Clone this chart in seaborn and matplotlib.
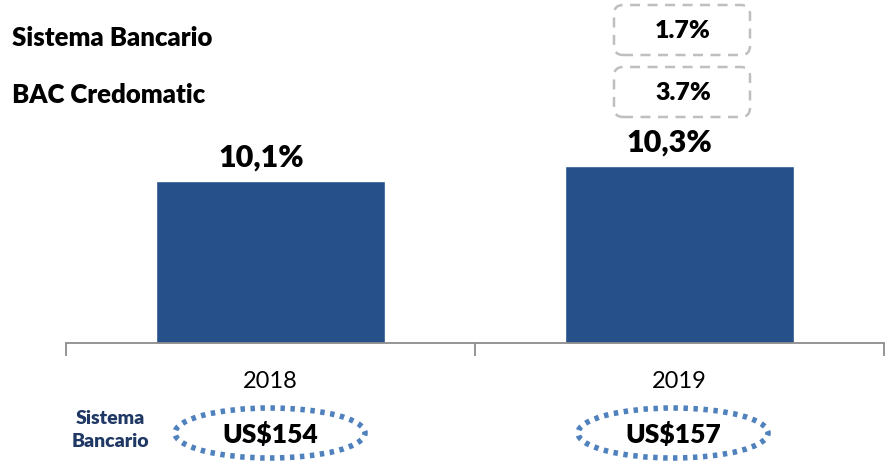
import numpy as np
import pandas as pd
import matplotlib
matplotlib.use("Agg")
import matplotlib.pyplot as plt
import seaborn as sns
from matplotlib.patches import Ellipse, FancyBboxPatch
from matplotlib.transforms import IdentityTransform

# data
years = ["2018", "2019"]
share = [10.1, 10.3]
sistema_growth = "1.7%"
bac_growth = "3.7%"
sistema_totals = ["US$154", "US$157"]

bar_color = "#26508A"
navy = "#1F3864"
dot_blue = "#4F81BD"
BOLD = "heavy"

sns.set_theme(style="white")
plt.rcParams["font.family"] = ["Lato", "DejaVu Sans"]

fig = plt.figure(figsize=(8.85, 4.62), dpi=100)
W, H = 885, 462
# axes placed in pixel terms of the reference
ax = fig.add_axes([66 / W, (H - 343) / H, (884 - 66) / W, 343 / H])

df = pd.DataFrame({"year": years, "share": share})
sns.barplot(data=df, x="year", y="share", color=bar_color, width=0.56,
            saturation=1, ax=ax)

ax.set_ylim(7.94, 7.94 + 343 / 75)
ax.set_xlim(-0.5, 1.5)
ax.set_xlabel("")
ax.set_ylabel("")
ax.set_yticks([])
for s in ["top", "left", "right"]:
    ax.spines[s].set_visible(False)
ax.spines["bottom"].set_color("#8c8c8c")
ax.spines["bottom"].set_linewidth(1.3)

# category separator ticks
ax.set_xticks([-0.5, 0.5, 1.5], minor=True)
ax.tick_params(axis="x", which="minor", length=9, width=1.3, color="#8c8c8c",
               direction="out", bottom=True)
ax.tick_params(axis="x", which="major", length=0, pad=20, labelsize=17,
               labelcolor="black")

# value labels, sitting a little left of bar centre as in the original
for bar, v in zip(ax.patches, share):
    lbl = f"{v:.1f}".replace(".", ",") + "%"
    ax.annotate(lbl, (bar.get_x() + bar.get_width() / 2, bar.get_height()),
                xytext=(-7, 7), textcoords="offset points", ha="center",
                va="bottom", fontsize=22, fontweight=BOLD, color="black")

# left header labels
fig.text(12 / W, 1 - 38 / H, "Sistema Bancario", fontsize=18.5, fontweight=BOLD,
         va="center", ha="left", color="black")
fig.text(12 / W, 1 - 95 / H, "BAC Credomatic", fontsize=18.5, fontweight=BOLD,
         va="center", ha="left", color="black")

# dashed growth boxes
for top, txt in [(5, sistema_growth), (67, bac_growth)]:
    box = FancyBboxPatch((614, H - top - 50), 136, 50,
                         boxstyle="round,pad=0,rounding_size=9",
                         transform=IdentityTransform(), fill=False,
                         edgecolor="#bfbfbf", linestyle=(0, (4, 3)), linewidth=1.8)
    fig.add_artist(box)
    fig.text(683 / W, 1 - (top + 26) / H, txt, fontsize=18, fontweight=BOLD,
             ha="center", va="center", color="black")

# bottom totals
fig.text(110 / W, 1 - 430 / H, "Sistema\nBancario", fontsize=14,
         fontweight=BOLD, ha="center", va="center", color=navy,
         linespacing=1.45)
for cx, txt in zip([270, 673], sistema_totals):
    ell = Ellipse((cx, H - 433), 190, 50, transform=IdentityTransform(),
                  fill=False, edgecolor=dot_blue, linewidth=4,
                  linestyle=(0, (0.8, 1.0)))
    fig.add_artist(ell)
    fig.text(cx / W, 1 - 434 / H, txt, fontsize=19, fontweight=BOLD,
             ha="center", va="center", color="black")

fig.savefig("out.png", dpi=100)
